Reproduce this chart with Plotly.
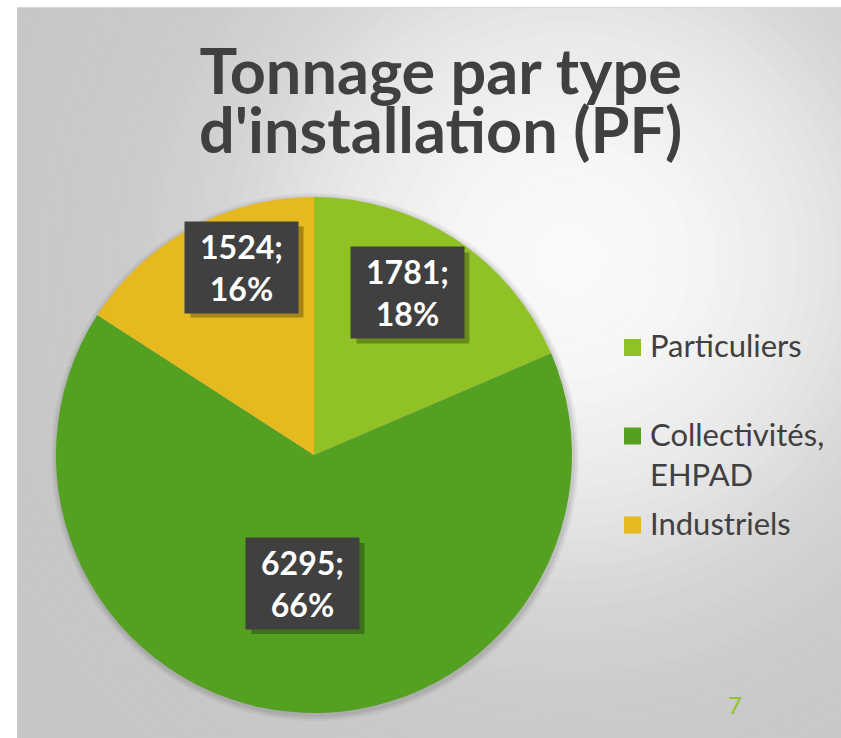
import math
import plotly.graph_objects as go

# ---------------- data ----------------
categories = ["Particuliers", "Collectivités, EHPAD", "Industriels"]
tonnage = [1781, 6295, 1524]
percent_labels = [18, 66, 16]
colors = ["#90C226", "#54A021", "#E6B91E"]
title_lines = ["Tonnage par type", "d'installation (PF)"]
page_number = "7"

# ---------------- geometry helpers ----------------
W, H = 841, 738


def px(x):
    return x / W


def py(y):
    return 1 - y / H


cx, cy, r = 314, 455, 258  # pie centre / radius in pixels

fig = go.Figure(
    go.Pie(
        labels=categories,
        values=tonnage,
        sort=False,
        direction="clockwise",
        rotation=0,
        marker=dict(colors=colors, line=dict(width=0)),
        textinfo="none",
        hoverinfo="label+value+percent",
        showlegend=False,
        domain=dict(x=[px(cx - r), px(cx + r)], y=[py(cy + r), py(cy - r)]),
    )
)

# ---------------- background (radial gray gradient) ----------------
shapes = []
gx, gy = 570, 260
stops = [(0, 250), (120, 246), (250, 231), (350, 213), (450, 203), (600, 199), (800, 197)]


def gray_at(d):
    for (d0, g0), (d1, g1) in zip(stops[:-1], stops[1:]):
        if d0 <= d <= d1:
            t = (d - d0) / (d1 - d0)
            return g0 + t * (g1 - g0)
    return stops[-1][1]


N = 60
Rmax = 800
for k in range(N, 0, -1):
    R = Rmax * k / N
    g = int(round(gray_at(R)))
    shapes.append(dict(type="circle", xref="paper", yref="paper",
                       x0=px(gx - R), x1=px(gx + R), y0=py(gy + R), y1=py(gy - R),
                       fillcolor=f"rgb({g},{g},{g})", line=dict(width=0), layer="below"))
# white margins of the slide
shapes.append(dict(type="rect", xref="paper", yref="paper", x0=0, x1=px(17), y0=0, y1=1,
                   fillcolor="white", line=dict(width=0), layer="below"))
shapes.append(dict(type="rect", xref="paper", yref="paper", x0=0, x1=1, y0=py(7), y1=1,
                   fillcolor="white", line=dict(width=0), layer="below"))
shapes.append(dict(type="line", xref="paper", yref="paper", x0=px(17), x1=1, y0=py(7.5), y1=py(7.5),
                   line=dict(color="#d8d8d8", width=1), layer="below"))
# soft shadow around the pie
for extra, alpha in [(6, 0.04), (4, 0.05), (2, 0.06)]:
    R = r + extra
    shapes.append(dict(type="circle", xref="paper", yref="paper",
                       x0=px(cx - R + 1), x1=px(cx + R + 1), y0=py(cy + R + 2), y1=py(cy - R + 2),
                       fillcolor=f"rgba(0,0,0,{alpha})", line=dict(width=0), layer="below"))

# ---------------- annotations ----------------
annotations = []
FONT = "Lato, 'Open Sans', sans-serif"

# title: one text block; the base font size sets the (tight) line spacing,
# the spans set the glyph size
title_size = 63
title_text = "<br>".join(
    f"<span style='font-size:{title_size}px'><b>{line}</b></span>" for line in title_lines
)
annotations.append(dict(x=px(441), y=py(30), xref="paper", yref="paper",
                        text=title_text, showarrow=False, xanchor="center", yanchor="top",
                        align="center",
                        font=dict(family=FONT, size=45, color="#404040")))

# data labels (dark boxes)
total = sum(tonnage)
label_radius = [0.726, 0.5, 0.78]
angle_nudge = [-3.3, 0.1, 7.6]
cum = 0
for i, v in enumerate(tonnage):
    mid = (cum + v / 2) / total * 360
    cum += v
    a = math.radians(mid + angle_nudge[i])
    lx = cx + label_radius[i] * r * math.sin(a)
    ly = cy - label_radius[i] * r * math.cos(a)
    txt = f"<b>{v};<br>{percent_labels[i]}%</b>"
    # box shadow (drawn as a shape behind the label box)
    shapes.append(dict(type="rect", xref="paper", yref="paper",
                       x0=px(lx - 56.5 + 5), x1=px(lx + 56.5 + 5),
                       y0=py(ly + 45.5 + 5), y1=py(ly - 45.5 + 5),
                       fillcolor="rgba(0,0,0,0.28)", line=dict(width=0)))
    annotations.append(dict(x=px(lx), y=py(ly), xref="paper", yref="paper", text=txt, showarrow=False,
                            xanchor="center", yanchor="middle", width=109, height=87, borderpad=2,
                            bgcolor="#404040",
                            font=dict(family=FONT, size=32, color="white")))

# legend (manual)
leg_font = 31
leg_rows = [347.5, 436, 525]  # square centres in px
for i, cat in enumerate(categories):
    yc = leg_rows[i]
    shapes.append(dict(type="rect", xref="paper", yref="paper",
                       x0=px(624), x1=px(641), y0=py(yc + 8.5), y1=py(yc - 8.5),
                       fillcolor=colors[i], line=dict(width=0)))
    label = cat.replace(", ", ",<br>")
    annotations.append(dict(x=px(648), y=py(yc - 23), xref="paper", yref="paper", text=label,
                            showarrow=False, xanchor="left", yanchor="top", align="left",
                            font=dict(family=FONT, size=leg_font, color="#404040")))

# page number
annotations.append(dict(x=px(735), y=py(704), xref="paper", yref="paper", text=page_number,
                        showarrow=False, xanchor="center", yanchor="middle",
                        font=dict(family=FONT, size=24, color="#90C226")))

fig.update_layout(
    width=W, height=H,
    margin=dict(l=0, r=0, t=0, b=0),
    paper_bgcolor="white",
    plot_bgcolor="rgba(0,0,0,0)",
    shapes=shapes,
    annotations=annotations,
    showlegend=False,
)

fig.write_html(
    "out.html",
    config={"displayModeBar": False},
    post_script="document.body.style.margin='0';document.body.style.overflow='hidden';",
)
